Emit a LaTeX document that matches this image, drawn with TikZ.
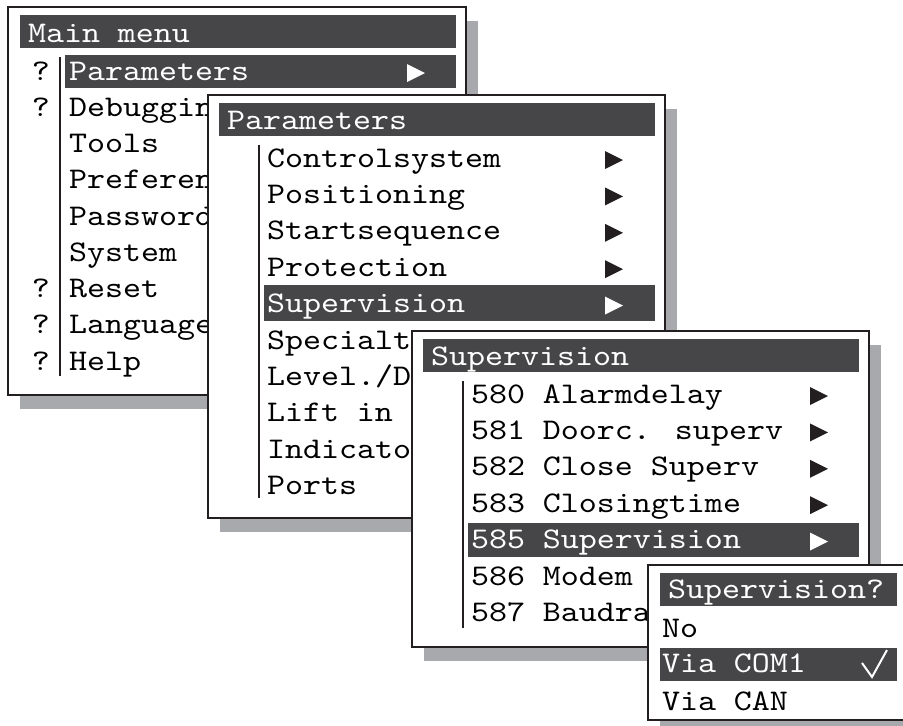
\documentclass[tikz,border=0pt]{standalone}
\usepackage{fontspec}
\newfontfamily\menufont{lmmono10-regular.otf}[FakeStretch=1.143]
\definecolor{ink}{HTML}{231F20}
\definecolor{bargrey}{HTML}{464648}
\definecolor{shadowgrey}{HTML}{A8A9AC}
\tikzset{
  winshadow/.style={fill=shadowgrey},
  winframe/.style={draw=ink, line width=2.6pt, fill=white},
  darkbar/.style={fill=bargrey},
  itemtxt/.style={anchor=base west, inner sep=0pt, outer sep=0pt,
    font=\menufont\fontsize{30}{36}\selectfont, text=black},
  bartxt/.style={itemtxt, text=white},
  qmark/.style={anchor=base, inner sep=0pt, outer sep=0pt,
    font=\menufont\fontsize{30}{36}\selectfont},
  sepline/.style={draw=ink, line width=2.4pt},
}
% submenu arrow: left x, baseline y, colour
\newcommand\subarrow[3]{\fill[#3] (#1,#2-16) -- (#1,#2+2) -- (#1+18,#2-7) -- cycle;}
\begin{document}
\begin{tikzpicture}[x=1pt,y=-1pt]
\useasboundingbox (0,0) rectangle (903,726);
\clip (0,0) rectangle (903,726);
\fill[white] (0,0) rectangle (903,726);

% ---------- Main menu ----------
\fill[winshadow] (20,21) rectangle (478,409);
\draw[winframe] (8,7) rectangle (466,395);
\fill[darkbar] (20,15) rectangle (456,48);
\node[bartxt] (mainTitle) at (28,42) {Main menu};
\fill[darkbar] (65,55) rectangle (456,88);
\draw[sepline] (60,57) -- (60,376);
\node[bartxt] (m0) at (69,80) {Parameters};
\subarrow{407}{80}{white}
\foreach \t [count=\i from 1] in {Debuggin,Tools,Preferen,Password,System,Reset,Language,Help}
  {\node[itemtxt] (m\i) at (69,80+36.25*\i) {\t};}
\foreach \i in {0,1,6,7,8}
  {\node[qmark] (q\i) at (41,80+36.25*\i) {?};}

% ---------- Parameters ----------
\fill[winshadow] (220,109) rectangle (677,532);
\draw[winframe] (208,95) rectangle (665,518);
\fill[darkbar] (219,103) rectangle (655,136);
\node[bartxt] (parTitle) at (227,129) {Parameters};
\fill[darkbar] (264,285) rectangle (655,321);
\draw[sepline] (259,145) -- (259,498);
\foreach \t [count=\i from 0] in {Controlsystem,Positioning,Startsequence,Protection}
  {\node[itemtxt] (p\i) at (267,167+36.4*\i) {\t};}
\node[bartxt] (p4) at (267,167+36.4*4) {Supervision};
\foreach \t [count=\i from 5] in {Specialt,Level./D,Lift in,Indicato,Ports}
  {\node[itemtxt] (p\i) at (267,167+36.4*\i) {\t};}
\foreach \i in {0,1,2,3}
  {\subarrow{605}{167+36.4*\i}{ink}}
\subarrow{605}{167+36.4*4}{white}

% ---------- Supervision ----------
\fill[winshadow] (424,345) rectangle (881,661);
\draw[winframe] (412,331) rectangle (869,647);
\fill[darkbar] (423,339) rectangle (859,372);
\node[bartxt] (supTitle) at (431,365) {Supervision};
\fill[darkbar] (468,523) rectangle (859,557);
\draw[sepline] (463,381) -- (463,628);
\foreach \t [count=\i from 0] in {580 Alarmdelay,581 Doorc. superv,582 Close Superv,583 Closingtime}
  {\node[itemtxt] (s\i) at (471,403+36.4*\i) {\t};}
\node[bartxt] (s4) at (471,403+36.4*4) {585 Supervision};
\foreach \t [count=\i from 5] in {586 Modem,587 Baudra}
  {\node[itemtxt] (s\i) at (471,403+36.4*\i) {\t};}
\foreach \i in {0,1,2,3}
  {\subarrow{810}{403+36.4*\i}{ink}}
\subarrow{810}{403+36.4*4}{white}

% ---------- Supervision? ----------
\fill[winshadow] (660,579) rectangle (918,734);
\draw[winframe] (648,565) rectangle (906,720);
\fill[darkbar] (660,573) rectangle (897,606);
\node[bartxt] (askTitle) at (668,598) {Supervision?};
\fill[darkbar] (660,648) rectangle (897,681);
\node[itemtxt] (a0) at (662,637) {No};
\node[bartxt] (a1) at (662,672) {Via COM1};
\node[itemtxt] (a2) at (662,710) {Via CAN};
\draw[white, line width=2pt, line join=miter] (862,663) -- (872,677) -- (887,650);
\end{tikzpicture}
\end{document}
